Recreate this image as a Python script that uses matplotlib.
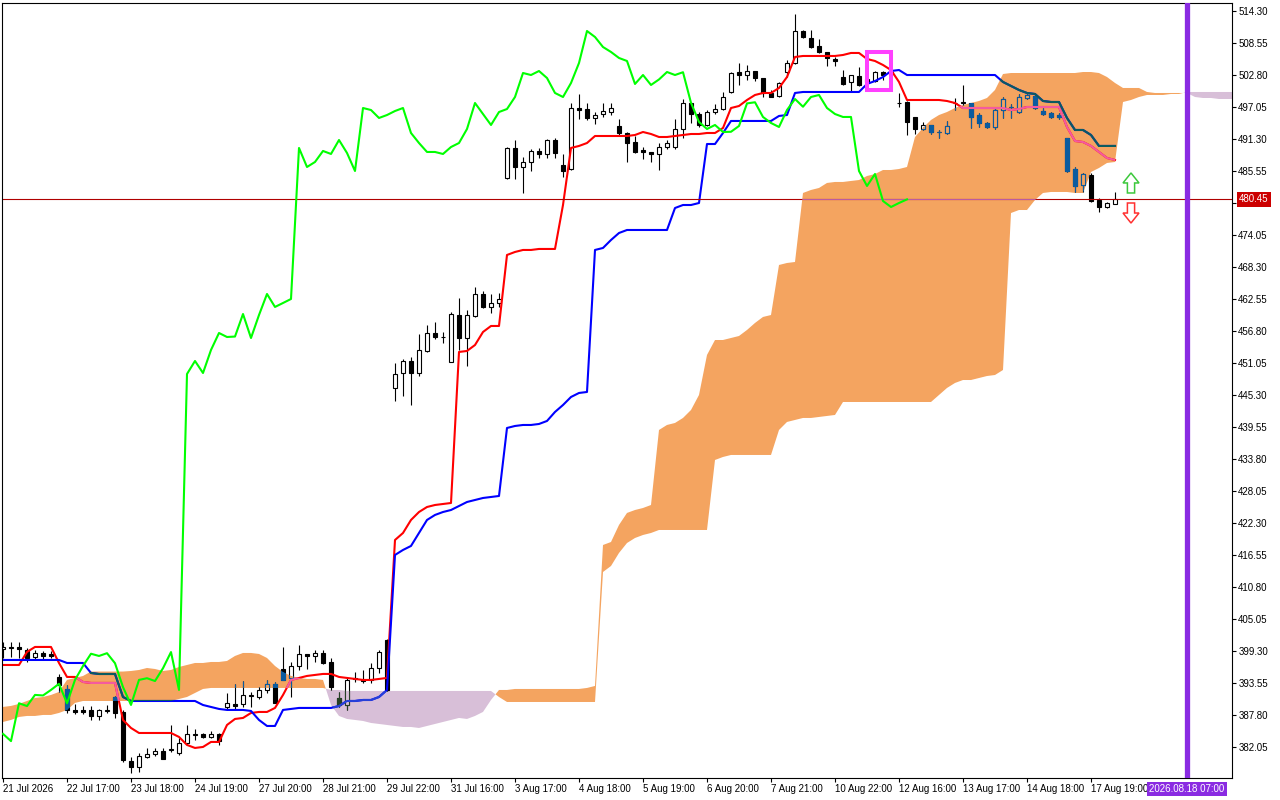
import numpy as np
import matplotlib
matplotlib.use('Agg')
import matplotlib.pyplot as plt
import matplotlib.colors as mcolors
import matplotlib.transforms as mtransforms
from matplotlib.path import Path
from matplotlib.patches import Rectangle, Polygon

plt.rcParams['font.family'] = ['Liberation Sans', 'DejaVu Sans']

# ---- candles (H-bars, oldest first) ----
opens = [399.7, 399.8, 400.0, 399.5, 398.2, 398.9, 398.8, 394.6, 392.5, 388.7,
         388.7, 388.7, 387.6, 388.5, 391.0, 388.3, 379.5, 378.5, 380.2, 380.8,
         381.3, 381.5, 380.9, 382.8, 384.2, 384.4, 383.8, 384.4, 389.2, 389.8,
         389.8, 391.2, 391.0, 392.3, 393.4, 396.1, 394.5, 396.6, 398.8, 398.4,
         398.9, 397.3, 390.8, 389.6, 394.3, 394.1, 394.1, 396.2, 401.3, 446.56,
         449.25, 451.41, 449.25, 453.21, 456.44, 455.72, 451.23, 459.67, 455.54, 459.49,
         463.45, 461.12, 461.83, 484.29, 489.69, 486.27, 487.17, 489.15, 488.61, 491.12,
         486.63, 485.91, 496.87, 496.69, 495.08, 495.79, 496.15, 493.64, 492.38, 490.76,
         489.33, 488.97, 488.61, 489.86, 489.86, 493.10, 497.77, 495.79, 493.82, 496.15,
         496.69, 499.75, 503.34, 502.80, 503.52, 502.26, 499.57, 499.03, 503.34, 504.96,
         510.71, 509.45, 508.01, 506.94, 505.68, 502.44, 501.54, 502.62, 501.50, 501.72,
         503.34, 503.00, 497.77, 497.95, 495.26, 493.10, 493.82, 492.56, 492.38, 497.80,
         497.77, 497.77, 495.61, 494.18, 493.46, 496.51, 497.05, 496.15, 498.67, 499.03,
         496.33, 495.97, 495.61, 491.48, 485.91, 483.04, 484.83, 480.34, 479.08, 479.62]
highs = [400.9, 400.9, 400.9, 399.8, 399.5, 399.3, 399.3, 395.2, 393.2, 389.8,
         389.4, 389.4, 388.9, 389.6, 391.2, 388.7, 380.2, 381.0, 381.9, 381.9,
         381.9, 386.0, 383.7, 386.0, 385.3, 384.6, 384.9, 384.6, 391.7, 393.4,
         393.9, 391.9, 392.8, 394.1, 393.7, 400.0, 397.3, 400.4, 398.8, 399.5,
         399.5, 398.0, 391.9, 394.6, 395.5, 395.9, 397.1, 399.5, 401.5, 451.05,
         451.77, 452.13, 456.26, 457.88, 458.42, 456.62, 460.21, 462.73, 460.57, 464.71,
         463.99, 463.45, 463.63, 489.86, 491.12, 488.07, 489.50, 489.69, 491.30, 491.48,
         488.61, 497.77, 499.39, 497.77, 496.15, 497.77, 497.77, 494.90, 492.56, 491.84,
         489.86, 489.00, 490.58, 491.12, 494.90, 498.49, 497.80, 496.15, 496.51, 497.59,
         499.75, 503.34, 504.96, 504.60, 503.60, 502.30, 500.11, 501.54, 505.50, 513.76,
         510.89, 510.89, 509.27, 506.94, 506.04, 503.70, 502.80, 504.24, 502.50, 503.52,
         503.50, 503.80, 499.57, 498.10, 495.30, 494.36, 493.90, 492.92, 494.54, 498.70,
         501.00, 497.80, 495.97, 494.36, 497.05, 498.85, 497.59, 499.39, 499.40, 499.20,
         496.87, 496.15, 495.97, 491.50, 486.27, 485.19, 485.19, 480.70, 480.00, 481.78]
lows = [398.0, 398.2, 398.0, 397.3, 397.7, 397.9, 398.0, 391.9, 388.2, 388.0,
        388.0, 386.9, 386.9, 388.2, 387.3, 379.4, 377.4, 377.6, 380.1, 380.4,
        379.9, 381.1, 380.6, 382.4, 383.3, 383.7, 383.7, 382.4, 388.7, 388.7,
        389.2, 389.2, 390.7, 391.7, 389.9, 394.1, 391.0, 395.9, 396.1, 397.3,
        397.0, 392.3, 389.2, 388.7, 393.7, 393.5, 393.5, 395.3, 392.1, 444.22,
        445.12, 443.50, 448.71, 453.03, 455.36, 454.64, 451.23, 453.39, 450.51, 459.31,
        460.93, 460.03, 461.12, 484.11, 484.11, 481.60, 485.55, 487.89, 487.89, 487.89,
        484.47, 485.73, 494.90, 494.72, 494.00, 495.26, 495.61, 492.02, 487.17, 488.79,
        487.71, 487.17, 485.73, 489.50, 489.50, 491.48, 494.18, 493.46, 493.64, 495.79,
        496.51, 499.57, 501.01, 501.90, 501.72, 498.85, 498.80, 498.85, 502.44, 504.78,
        509.45, 507.65, 506.76, 504.42, 504.42, 501.01, 499.75, 500.83, 501.00, 501.54,
        501.90, 502.60, 497.05, 492.02, 492.20, 492.92, 492.20, 491.48, 492.20, 496.50,
        497.41, 493.28, 493.46, 493.28, 493.10, 495.08, 495.08, 495.97, 498.50, 496.70,
        495.61, 495.08, 494.90, 485.37, 481.78, 481.78, 479.98, 478.19, 478.90, 479.60]
closes = [400.0, 400.0, 399.7, 398.0, 398.9, 398.4, 398.4, 393.2, 388.7, 388.3,
          388.3, 387.6, 388.7, 388.7, 388.2, 379.7, 378.5, 380.4, 380.8, 381.3,
          379.9, 381.6, 382.8, 384.4, 384.3, 383.8, 384.4, 383.1, 389.9, 389.4,
          391.4, 391.3, 392.3, 393.4, 389.9, 394.1, 396.6, 398.8, 398.4, 398.9,
          397.1, 392.8, 389.6, 394.1, 394.4, 393.9, 396.2, 399.1, 392.3, 449.07,
          451.41, 449.25, 453.39, 456.44, 455.72, 455.80, 459.85, 455.54, 459.67, 463.45,
          461.12, 461.83, 462.55, 489.69, 486.27, 487.17, 489.15, 488.61, 491.12, 488.79,
          485.55, 496.87, 496.51, 495.08, 495.61, 496.33, 496.87, 492.38, 490.58, 488.97,
          488.97, 488.61, 489.86, 490.58, 493.10, 497.77, 495.79, 493.82, 496.15, 496.69,
          498.85, 503.16, 502.80, 503.52, 502.26, 499.57, 498.85, 501.36, 504.96, 510.71,
          509.63, 507.83, 506.94, 505.86, 505.32, 501.19, 502.80, 501.01, 502.00, 503.34,
          502.80, 503.30, 497.80, 494.36, 493.10, 493.82, 492.56, 492.60, 493.64, 497.70,
          497.90, 495.26, 494.18, 493.46, 496.51, 498.49, 497.10, 498.85, 499.21, 496.87,
          495.79, 495.26, 495.26, 485.55, 482.86, 485.01, 480.16, 479.08, 479.80, 480.45]

# ---- ichimoku lines ----
tenkan = [396.78, 396.78, 396.78, 399.12, 400.02, 400.02, 400.02, 397.14, 394.63, 394.63,
          393.73, 393.55, 393.55, 393.55, 393.55, 386.90, 385.46, 384.56, 384.56, 384.56,
          384.56, 384.56, 383.85, 382.41, 381.87, 382.05, 382.95, 382.95, 386.00, 387.08,
          387.26, 388.16, 388.34, 388.34, 389.06, 391.39, 394.09, 394.45, 394.81, 394.99,
          395.17, 395.17, 394.63, 394.45, 394.27, 394.09, 394.09, 394.27, 394.45, 419.24,
          420.50, 422.84, 424.27, 425.17, 425.53, 425.71, 425.89, 453.03, 453.21, 454.28,
          456.62, 457.70, 457.70, 470.46, 471.00, 471.36, 471.36, 471.54, 471.54, 471.54,
          479.44, 489.69, 490.05, 490.58, 491.84, 491.84, 491.84, 491.84, 491.84, 492.02,
          492.56, 492.20, 491.66, 491.66, 491.84, 492.02, 492.20, 492.20, 492.38, 492.38,
          493.28, 496.87, 497.23, 498.31, 499.21, 499.57, 499.57, 500.47, 502.44, 506.04,
          506.22, 506.22, 506.22, 506.22, 506.22, 506.40, 506.76, 506.76, 505.68, 505.32,
          504.60, 503.70, 501.55, 498.31, 498.31, 498.31, 498.31, 498.31, 498.13, 497.77,
          496.87, 496.87, 496.87, 496.87, 496.87, 496.87, 496.51, 496.69, 497.05, 497.05,
          497.05, 497.05, 497.05, 493.46, 490.94, 490.76, 490.05, 488.97, 487.89, 487.53]
kijun = [397.68, 397.68, 397.68, 397.68, 397.68, 397.68, 397.68, 397.68, 397.14, 397.14,
         397.14, 395.34, 395.16, 395.16, 395.16, 391.03, 390.31, 390.31, 390.31, 390.31,
         390.31, 390.31, 390.31, 390.31, 390.31, 389.59, 389.24, 388.88, 388.70, 388.70,
         388.70, 388.52, 386.90, 385.82, 385.82, 388.70, 388.88, 389.06, 389.06, 389.06,
         389.06, 389.06, 389.41, 390.31, 390.31, 390.49, 390.49, 391.03, 392.29, 416.55,
         417.45, 418.17, 420.50, 422.84, 423.74, 424.27, 424.63, 425.35, 426.07, 426.43,
         426.79, 426.97, 427.15, 439.37, 439.73, 439.91, 439.91, 440.09, 440.63, 442.25,
         443.50, 444.94, 445.66, 445.84, 471.36, 471.72, 473.15, 474.41, 474.95, 474.95,
         474.95, 474.95, 474.95, 474.95, 478.90, 479.44, 479.44, 479.80, 490.40, 490.40,
         492.38, 494.54, 494.54, 494.54, 494.54, 494.54, 494.54, 495.44, 495.61, 499.57,
         499.75, 499.75, 499.75, 499.75, 499.75, 499.75, 499.75, 499.75, 501.19, 501.72,
         502.44, 503.52, 503.70, 502.80, 502.80, 502.80, 502.80, 502.80, 502.80, 502.80,
         502.80, 502.80, 502.80, 502.80, 502.80, 501.55, 500.83, 500.11, 499.57, 499.39,
         498.13, 497.95, 497.95, 495.08, 492.92, 492.92, 492.02, 490.05, 490.05, 490.05]
# senkou spans, already shifted 26 bars forward (index = bar position on chart)
span_a = [389.24, 389.42, 389.78, 390.31, 390.85, 391.03, 391.39, 391.93, 394.09, 394.45,
          394.80, 395.60, 395.60, 395.60, 395.60, 395.60, 395.70, 395.88, 396.24, 396.06,
          395.70, 395.88, 396.42, 396.78, 397.14, 397.14, 397.32, 397.32, 397.50, 398.40,
          398.94, 398.94, 398.76, 398.04, 396.60, 395.52, 394.81, 394.45, 394.27, 394.27,
          394.09, 389.60, 387.62, 387.08, 386.90, 386.72, 386.36, 386.18, 386.00, 385.82,
          385.64, 385.64, 385.46, 385.82, 386.18, 386.54, 386.90, 387.26, 387.08, 387.62,
          388.34, 390.49, 392.29, 392.29, 392.47, 392.47, 392.47, 392.47, 392.47, 392.47,
          392.47, 392.47, 392.47, 392.65, 393.01, 418.34, 418.88, 421.94, 424.10, 424.63,
          424.99, 425.53, 439.01, 439.91, 440.27, 441.17, 442.60, 445.30, 452.49, 455.18,
          455.18, 455.54, 455.90, 456.98, 458.24, 459.32, 459.67, 468.66, 469.02, 469.20,
          481.60, 482.14, 482.50, 483.40, 483.58, 483.58, 483.76, 483.93, 484.65, 485.01,
          485.73, 485.73, 485.91, 486.27, 491.66, 493.28, 494.72, 495.61, 496.15, 496.87,
          497.41, 497.77, 498.13, 498.67, 500.11, 502.98, 503.16, 503.16, 503.16, 503.16,
          503.16, 503.16, 503.16, 503.16, 503.16, 503.34, 503.34, 503.16, 502.44, 501.37,
          500.47, 500.47, 500.47, 499.75, 499.57, 499.57, 499.57, 499.57, 499.57, 498.85,
          498.67, 498.67, 498.49, 498.49, 498.49, 498.49]
span_b = [386.54, 386.90, 387.44, 387.62, 387.62, 387.80, 387.80, 388.16, 388.70, 389.96,
          390.31, 390.31, 390.31, 390.31, 390.31, 390.31, 390.31, 390.31, 390.31, 390.31,
          390.31, 390.31, 390.67, 391.03, 391.75, 392.47, 392.65, 392.65, 392.65, 392.65,
          392.65, 392.65, 392.65, 392.65, 392.65, 392.65, 392.65, 392.65, 392.65, 392.65,
          392.65, 392.29, 392.29, 392.11, 392.11, 392.11, 392.11, 392.11, 392.11, 392.11,
          392.11, 392.11, 392.11, 392.11, 392.11, 392.11, 392.11, 392.11, 392.11, 392.11,
          392.11, 392.11, 391.03, 390.13, 390.13, 390.13, 390.13, 390.13, 390.13, 390.13,
          390.13, 390.13, 390.13, 390.13, 390.13, 413.49, 414.57, 416.91, 418.70, 419.60,
          420.14, 420.50, 421.04, 421.04, 421.04, 421.04, 421.04, 421.04, 421.04, 433.62,
          434.16, 434.52, 434.52, 434.52, 434.52, 434.52, 434.52, 439.01, 440.45, 440.81,
          441.17, 441.17, 441.35, 441.53, 441.71, 444.04, 444.04, 444.04, 444.04, 444.04,
          444.04, 444.04, 444.04, 444.04, 444.04, 444.04, 444.04, 445.30, 446.56, 447.46,
          447.99, 447.99, 448.35, 448.71, 448.89, 449.79, 478.00, 478.54, 478.54, 480.34,
          481.60, 481.78, 481.78, 481.78, 481.60, 481.60, 485.37, 486.09, 486.99, 487.17,
          497.95, 498.31, 498.85, 499.21, 499.21, 499.21, 499.39, 499.39, 499.75, 499.75,
          499.75, 499.75, 499.75, 499.75, 499.75, 499.75]

price_ticks = [382.05, 387.80, 393.55, 399.30, 405.05, 410.80, 416.55, 422.30, 428.05,
               433.80, 439.55, 445.30, 451.05, 456.80, 462.55, 468.30, 474.05, 479.80,
               485.55, 491.30, 497.05, 502.80, 508.55, 514.30]
time_labels = ['21 Jul 2026', '22 Jul 17:00', '23 Jul 18:00', '24 Jul 19:00',
               '27 Jul 20:00', '28 Jul 21:00', '29 Jul 22:00', '31 Jul 16:00',
               '3 Aug 17:00', '4 Aug 18:00', '5 Aug 19:00', '6 Aug 20:00',
               '7 Aug 21:00', '10 Aug 22:00', '12 Aug 16:00', '13 Aug 17:00',
               '14 Aug 18:00', '17 Aug 19:00']
bid = 480.45
vline_bar = 148
vline_text = '2026.08.18 07:00'
box_bars = (108, 111)
box_prices = (500.1, 506.9)
arrow_bar = 141
up_arrow = (485.2, 483.4, 481.6)    # tip, head base, tail
down_arrow = (476.2, 478.0, 479.8)

SANDY = '#F4A460'
THISTLE = '#D8BFD8'


def ink_on_cloud(color, cloud):
    # the terminal paints the cloud with a not-xor pen, so anything below it changes colour
    c = (np.array(mcolors.to_rgb(color)) * 255).round().astype(int)
    b = (np.array(mcolors.to_rgb(cloud)) * 255).round().astype(int)
    return tuple((255 - (c ^ b)) / 255.0)


base = {'outline': '#000000', 'up': '#FFFFFF', 'tenkan': '#FF0000', 'kijun': '#0000FF', 'bid': '#B00000'}


def draw_layer(ax, pal, clip=None, z=2):
    xs = np.arange(len(closes))
    o = np.array(opens)
    c = np.array(closes)
    arts = [ax.vlines(xs, lows, highs, colors=pal['outline'], lw=0.8, zorder=z)]
    faces = [pal['up'] if cc >= oo else pal['outline'] for oo, cc in zip(o, c)]
    bars = ax.bar(xs, np.abs(c - o), bottom=np.minimum(o, c), width=0.55, color=faces,
                  edgecolor=pal['outline'], linewidth=0.8, zorder=z)
    arts += list(bars.patches)
    arts += ax.plot(xs, tenkan, color=pal['tenkan'], lw=1.5, zorder=z)
    arts += ax.plot(xs, kijun, color=pal['kijun'], lw=1.5, zorder=z)
    arts.append(ax.axhline(bid, color=pal['bid'], lw=0.8, zorder=z))
    if clip is not None:
        for a in arts:
            a.set_clip_path(clip, ax.transData)


fig = plt.figure(figsize=(12.8, 8), dpi=100)
ax = fig.add_axes([2 / 1280, 22 / 800, 1230 / 1280, 775 / 800])
ax.set_facecolor('white')

cx = np.arange(len(span_a))
a = np.array(span_a)
b = np.array(span_b)
bull_cloud = ax.fill_between(cx, a, b, where=a >= b, interpolate=True, color=SANDY, lw=0, zorder=1)
bear_cloud = ax.fill_between(cx, a, b, where=a < b, interpolate=True, color=THISTLE, lw=0, zorder=1)

draw_layer(ax, base)
for coll, col, zz in [(bull_cloud, SANDY, 3), (bear_cloud, THISTLE, 3.1)]:
    paths = coll.get_paths()
    if paths:
        clip = Path.make_compound_path(*paths)
        pal = {k: ink_on_cloud(v, col) for k, v in base.items()}
        pal['up'] = col
        draw_layer(ax, pal, clip=clip, z=zz)

# chikou span = closes shifted 26 bars back
shift = 26
ax.plot(np.arange(len(closes) - shift), closes[shift:], color='#00FF00', lw=1.5, zorder=4)

# objects
ax.axvline(vline_bar, color='#8A2BE2', lw=3.8, zorder=5)
ax.add_patch(Rectangle((box_bars[0], box_prices[0]), box_bars[1] - box_bars[0],
                       box_prices[1] - box_prices[0], fill=False, edgecolor='#FF40FF',
                       lw=2.9, zorder=6))
xa = arrow_bar
tip, base_y, tail = up_arrow
ax.add_patch(Polygon([(xa - 0.45, tail), (xa - 0.45, base_y), (xa - 1, base_y), (xa, tip),
                      (xa + 1, base_y), (xa + 0.45, base_y), (xa + 0.45, tail)], closed=True,
                     facecolor='white', edgecolor='#3CC83C', lw=1.1, zorder=6))
tip, base_y, tail = down_arrow
ax.add_patch(Polygon([(xa - 0.45, tail), (xa - 0.45, base_y), (xa - 1, base_y), (xa, tip),
                      (xa + 1, base_y), (xa + 0.45, base_y), (xa + 0.45, tail)], closed=True,
                     facecolor='white', edgecolor='#FF3030', lw=1.1, zorder=6))

ax.set_xlim(-0.125, 153.625)
ax.set_ylim(376.47, 515.74)

ax.yaxis.tick_right()
ax.set_yticks(price_ticks)
ax.set_yticklabels([f'{v:.2f}' for v in price_ticks])
ax.set_xticks(np.arange(0, 8 * len(time_labels), 8))
ax.set_xticklabels(time_labels, ha='left')
ax.tick_params(axis='both', direction='out', length=3, width=0.8, labelsize=7, pad=1.5, colors='black')
for s in ax.spines.values():
    s.set_linewidth(0.8)
    s.set_color('black')

ytr = mtransforms.blended_transform_factory(ax.transAxes, ax.transData)
ax.text(1.0055, bid, f'{bid:.2f}', transform=ytr, ha='left', va='center', color='white',
        fontsize=7, zorder=10, bbox=dict(facecolor='#CC0000', edgecolor='none', pad=1.6))
xtr = mtransforms.blended_transform_factory(ax.transData, ax.transAxes)
ax.text(vline_bar, -0.0145, vline_text, transform=xtr, ha='center', va='center', color='white',
        fontsize=7, zorder=10, bbox=dict(facecolor='#8A2BE2', edgecolor='none', pad=1.6))

fig.savefig('out.png', dpi=100, facecolor='white')
